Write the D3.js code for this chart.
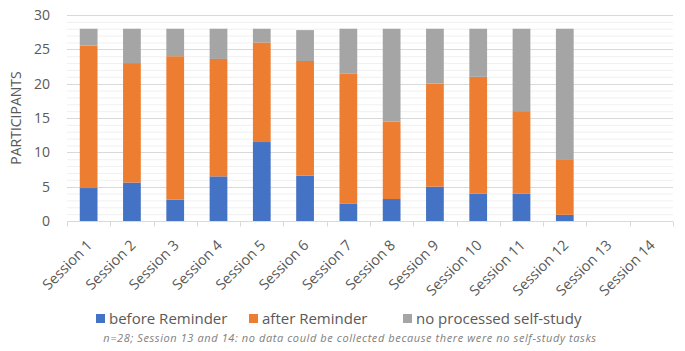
<!DOCTYPE html>
<html>
<head>
<meta charset="utf-8">
<script src="https://cdn.jsdelivr.net/npm/d3@7"></script>
<style>
  body { margin: 0; background: #fff; }
  svg { font-family: "Open Sans", "Liberation Sans", sans-serif; }
</style>
</head>
<body>
<svg id="chart" width="685" height="351"></svg>
<script>
const sessions = ["Session 1", "Session 2", "Session 3", "Session 4", "Session 5", "Session 6", "Session 7",
  "Session 8", "Session 9", "Session 10", "Session 11", "Session 12", "Session 13", "Session 14"];
const beforeReminder = [4.8, 5.6, 3.1, 6.5, 11.5, 6.6, 2.5, 3.2, 5.0, 4.0, 4.0, 0.9, 0, 0];
const afterReminder = [20.75, 17.4, 20.9, 17.1, 14.5, 16.7, 19.0, 11.3, 15.0, 17.0, 12.0, 8.1, 0, 0];
const noSelfStudy = [2.45, 5.0, 4.0, 4.4, 2.0, 4.5, 6.5, 13.5, 8.0, 7.0, 12.0, 19.0, 0, 0];
const seriesNames = ["before Reminder", "after Reminder", "no processed self-study"];
const colors = ["#4472C4", "#ED7D31", "#A5A5A5"];
const yTicks = [0, 5, 10, 15, 20, 25, 30];

const svg = d3.select("#chart");
const margin = { left: 67, right: 12, top: 15, bottom: 130 };
const width = 685, height = 351;

const x = d3.scaleBand().domain(sessions).range([margin.left, width - margin.right]).paddingInner(0.59).paddingOuter(0.295);
const xb = d3.scaleBand().domain(sessions).range([margin.left, width - margin.right]);
const y = d3.scaleLinear().domain([0, 30]).range([height - margin.bottom, margin.top]);

// minor gridlines
svg.append("g")
  .selectAll("line")
  .data(d3.range(1, 30).filter((v) => v % 5 !== 0))
  .enter()
  .append("line")
  .attr("x1", margin.left).attr("x2", width - margin.right)
  .attr("y1", (d) => y(d) + 0.5).attr("y2", (d) => y(d) + 0.5)
  .attr("stroke", "#f0f0f0");

// major gridlines
svg.append("g")
  .selectAll("line")
  .data(yTicks.slice(1))
  .enter()
  .append("line")
  .attr("x1", margin.left).attr("x2", width - margin.right)
  .attr("y1", (d) => Math.round(y(d)) + 0.5).attr("y2", (d) => Math.round(y(d)) + 0.5)
  .attr("stroke", "#d9d9d9");

// stacked bars
const rows = sessions.map((s, i) => ({ session: s, b: beforeReminder[i], a: afterReminder[i], n: noSelfStudy[i] }));
const stacked = d3.stack().keys(["b", "a", "n"])(rows);

svg.append("g")
  .selectAll("g")
  .data(stacked)
  .enter()
  .append("g")
  .attr("fill", (d, i) => colors[i])
  .selectAll("rect")
  .data((d) => d)
  .enter()
  .append("rect")
  .attr("x", (d) => x(d.data.session))
  .attr("width", x.bandwidth())
  .attr("y", (d) => y(d[1]))
  .attr("height", (d) => y(d[0]) - y(d[1]));

// x axis
const axisY = Math.round(y(0)) + 0.5;
svg.append("line")
  .attr("x1", margin.left).attr("x2", width - margin.right)
  .attr("y1", axisY).attr("y2", axisY)
  .attr("stroke", "#d9d9d9");

svg.append("g")
  .selectAll("line")
  .data(sessions.concat(["end"]))
  .enter()
  .append("line")
  .attr("x1", (d, i) => Math.round(margin.left + i * xb.step()) + 0.5)
  .attr("x2", (d, i) => Math.round(margin.left + i * xb.step()) + 0.5)
  .attr("y1", axisY).attr("y2", axisY + 5)
  .attr("stroke", "#d9d9d9");

svg.append("g")
  .selectAll("text")
  .data(sessions)
  .enter()
  .append("text")
  .attr("transform", (d) => `translate(${xb(d) + xb.bandwidth() / 2 + 1},${axisY + 21}) rotate(-45)`)
  .attr("text-anchor", "end")
  .attr("dy", "0.35em")
  .attr("fill", "#595959")
  .style("font-size", "14.5px")
  .text((d) => d);

// y axis labels
svg.append("g")
  .selectAll("text")
  .data(yTicks)
  .enter()
  .append("text")
  .attr("x", 50)
  .attr("y", (d) => y(d))
  .attr("dy", "0.35em")
  .attr("text-anchor", "end")
  .attr("fill", "#595959")
  .style("font-size", "14px")
  .text((d) => d);

svg.append("text")
  .attr("transform", `translate(16,${(y(0) + y(30)) / 2}) rotate(-90)`)
  .attr("text-anchor", "middle")
  .attr("dy", "0.35em")
  .attr("fill", "#595959")
  .style("font-size", "14px")
  .text("PARTICIPANTS");

// legend
const legendX = [96, 249, 403];
const legend = svg.append("g")
  .selectAll("g")
  .data(seriesNames)
  .enter()
  .append("g")
  .attr("transform", (d, i) => `translate(${legendX[i]},319)`);

legend.append("rect")
  .attr("x", 0).attr("y", -5)
  .attr("width", 9).attr("height", 9)
  .attr("fill", (d, i) => colors[i]);

legend.append("text")
  .attr("x", 13)
  .attr("dy", "0.35em")
  .attr("fill", "#595959")
  .style("font-size", "15px")
  .text((d) => d);

// footnote
svg.append("text")
  .attr("x", 350)
  .attr("y", 338)
  .attr("dy", "0.35em")
  .attr("text-anchor", "middle")
  .attr("fill", "#808080")
  .style("font-size", "11px")
  .style("font-style", "italic")
  .style("letter-spacing", "0.6px")
  .text("n=28; Session 13 and 14: no data could be collected because there were no self-study tasks");
</script>
</body>
</html>
